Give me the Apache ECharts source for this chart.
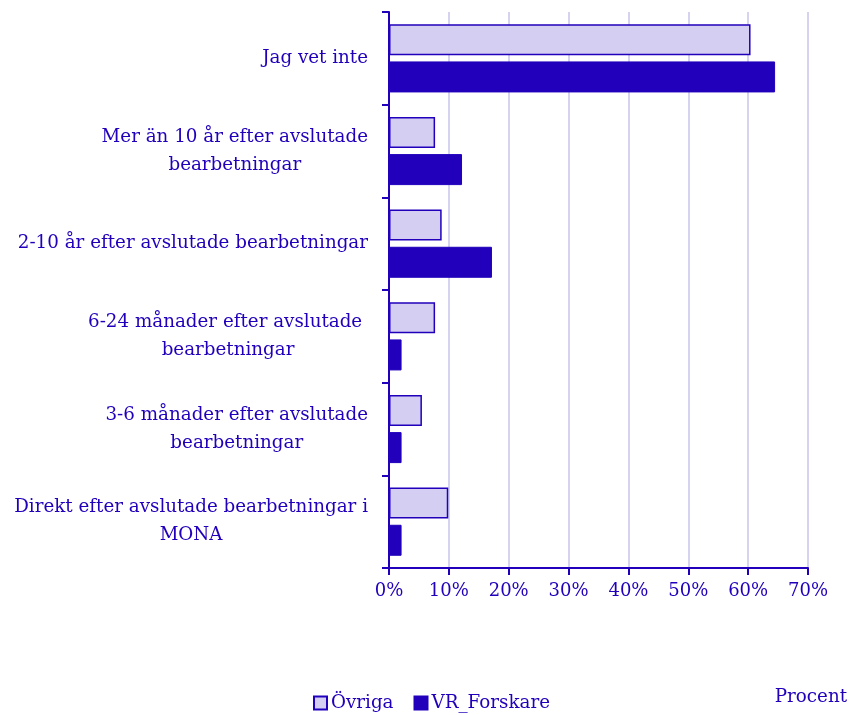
<!DOCTYPE html>
<html>
<head>
<meta charset="utf-8">
<script src="https://cdn.jsdelivr.net/npm/echarts@6/dist/echarts.min.js"></script>
<style>
  html, body { margin: 0; padding: 0; background: #fff; }
  #chart { width: 855px; height: 715px; }
</style>
</head>
<body>
<div id="chart"></div>
<script>
// kategorier uppifrån och ned
var categories = [
    'Jag vet inte',
    'Mer än 10 år efter avslutade\nbearbetningar',
    '2-10 år efter avslutade bearbetningar',
    '6-24 månader efter avslutade \nbearbetningar',
    '3-6 månader efter avslutade\nbearbetningar',
    'Direkt efter avslutade bearbetningar i\nMONA'
];
var ovriga = [60.4, 7.7, 8.8, 7.7, 5.5, 9.9];
var vrForskare = [64.5, 12.2, 17.2, 2.1, 2.1, 2.1];
var xTicks = [0, 10, 20, 30, 40, 50, 60, 70];

var blue = '#2200bb';
var light = '#d3cef2';
var font = 'DejaVu Serif';

var chart = echarts.init(document.getElementById('chart'));
var option = {
    animation: false,
    textStyle: { fontFamily: font, color: blue },
    title: {
        text: 'Procent',
        right: 3,
        top: 683,
        textStyle: { fontFamily: font, fontSize: 18.3, fontWeight: 'normal', color: blue }
    },
    legend: {
        data: ['Övriga', 'VR_Forskare'],
        icon: 'rect',
        left: 308,
        top: 689,
        itemWidth: 13,
        itemHeight: 13,
        itemGap: 20,
        textStyle: { fontFamily: font, fontSize: 18.3, color: blue, padding: [0, 0, 0, -1] }
    },
    grid: { left: 389, right: 47, top: 12, bottom: 147 },
    xAxis: {
        type: 'value',
        min: xTicks[0],
        max: xTicks[xTicks.length - 1],
        interval: 10,
        axisLine: { show: true, lineStyle: { color: blue, width: 2 } },
        axisTick: { show: true, length: 7, lineStyle: { color: blue, width: 2 } },
        axisLabel: {
            formatter: '{value}%',
            color: blue,
            fontFamily: font,
            fontSize: 18,
            margin: 14
        },
        splitLine: { show: true, lineStyle: { color: '#d6d3f1', width: 2 } }
    },
    yAxis: {
        type: 'category',
        inverse: true,
        data: categories,
        axisLine: { show: true, lineStyle: { color: blue, width: 2 } },
        axisTick: { show: true, length: 7, lineStyle: { color: blue, width: 2 } },
        axisLabel: {
            margin: 21,
            align: 'right',
            formatter: function (v) {
                return v.split('\n').map(function (l) { return '{c|' + l + '}'; }).join('\n');
            },
            rich: {
                c: { align: 'center', fontFamily: font, fontSize: 18.3, color: blue, lineHeight: 28 }
            }
        }
    },
    series: [
        {
            name: 'Övriga',
            type: 'bar',
            data: ovriga,
            barWidth: 31,
            barGap: '20%',
            itemStyle: { color: light, borderColor: blue, borderWidth: 1.5 }
        },
        {
            name: 'VR_Forskare',
            type: 'bar',
            data: vrForskare,
            barWidth: 31,
            barGap: '20%',
            itemStyle: { color: blue, borderColor: blue, borderWidth: 1 }
        }
    ]
};
chart.setOption(option);
window.addEventListener('resize', function () { chart.resize(); });
</script>
</body>
</html>
